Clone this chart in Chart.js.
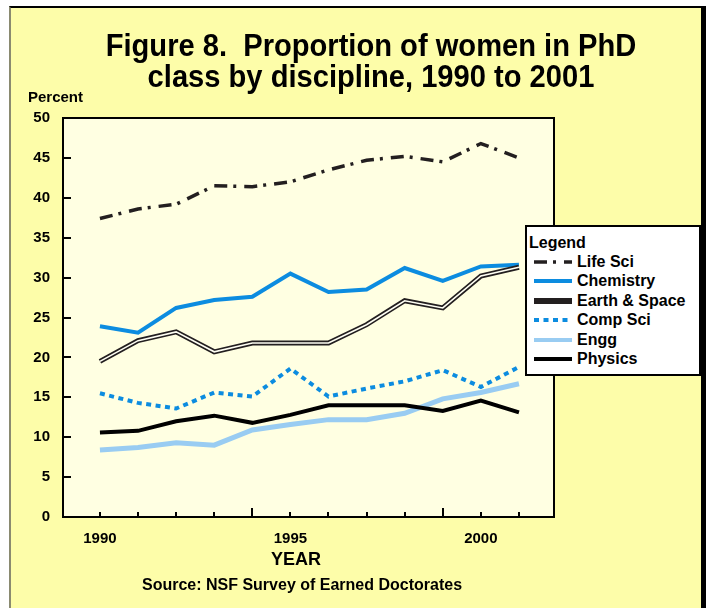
<!DOCTYPE html>
<html>
<head>
<meta charset="utf-8">
<script src="https://cdn.jsdelivr.net/npm/chart.js@4.4.1/dist/chart.umd.min.js"></script>
<style>
  html, body { margin: 0; padding: 0; background: #fff; }
  body { width: 711px; height: 608px; position: relative; overflow: hidden;
         font-family: "Liberation Sans", Arial, sans-serif; font-weight: bold; color: #000; }
  #frame { position: absolute; left: 9px; top: 6px; width: 697px; height: 620px;
           background: #FDFDA9; border-top: 2px solid #000; border-left: 2px solid #8a8a70;
           border-right: 5px solid #000; box-sizing: border-box; }
  #chart { position: absolute; left: 0; top: 0; }
  .txt { position: absolute; white-space: nowrap; }
  #title { left: 0; width: 742px; top: 30px; text-align: center; font-size: 32px;
           line-height: 31px; transform: scaleX(0.91); }
  #percent { left: 28px; top: 89px; font-size: 15px; line-height: 15px; }
  #year { left: 0; width: 592px; top: 550px; text-align: center; font-size: 18px; line-height: 18px; }
  #source { left: 0; width: 604px; top: 577px; text-align: center; font-size: 16px; line-height: 16px; }
  #legend { position: absolute; left: 525px; top: 225px; width: 176px; height: 151px;
            background: #fff; border: 2px solid #000; box-sizing: border-box; }
  #legend .head { position: absolute; left: 2px; top: 8px; font-size: 16px; line-height: 16px; }
  #legend .row { position: absolute; left: 5px; height: 16px; font-size: 16px; line-height: 16px;
                 white-space: nowrap; }
  #legend svg { position: absolute; left: 0; top: 0; }
  #legend .row span { position: absolute; left: 45px; top: 0; white-space: nowrap; }
</style>
</head>
<body>
<div id="frame"></div>
<canvas id="chart" width="711" height="608"></canvas>
<div class="txt" id="title">Figure 8.&nbsp; Proportion of women in PhD<br>class by discipline, 1990 to 2001</div>
<div class="txt" id="percent">Percent</div>
<div class="txt" id="year">YEAR</div>
<div class="txt" id="source">Source: NSF Survey of Earned Doctorates</div>
<div id="legend"><div class="head">Legend</div></div>

<script>
// ===== 資料 =====
const years = [1990, 1991, 1992, 1993, 1994, 1995, 1996, 1997, 1998, 1999, 2000, 2001];
const labelYears = [1990, 1995, 2000];
const majorTickYears = [1994, 1999];
const yTicks = [0, 5, 10, 15, 20, 25, 30, 35, 40, 45, 50];

const lifeSci   = [37.4, 38.6, 39.2, 41.5, 41.4, 42.0, 43.5, 44.7, 45.2, 44.5, 46.8, 45.0];
const chemistry = [23.9, 23.1, 26.2, 27.2, 27.6, 30.5, 28.2, 28.5, 31.2, 29.6, 31.4, 31.6];
const earthSpace= [19.5, 22.1, 23.2, 20.7, 21.8, 21.8, 21.8, 24.1, 27.1, 26.2, 30.2, 31.3];
const compSci   = [15.5, 14.3, 13.6, 15.6, 15.1, 18.6, 15.1, 16.1, 17.0, 18.4, 16.3, 18.8];
const engg      = [8.4, 8.7, 9.3, 9.0, 10.9, 11.6, 12.2, 12.2, 13.0, 14.8, 15.6, 16.7];
const physics   = [10.6, 10.8, 12.0, 12.7, 11.8, 12.8, 14.0, 14.0, 14.0, 13.3, 14.6, 13.1];

const plotBg = "#FFFFE2";
const pts = arr => arr.map((v, i) => ({ x: years[i], y: v }));

// ===== 資料集 =====
const datasets = [
  { label: "Life Sci", data: pts(lifeSci), borderColor: "#231F20", borderWidth: 3.5,
    borderDash: [13, 6, 3, 8], order: 6 },
  { label: "Chemistry", data: pts(chemistry), borderColor: "#0C8CE0", borderWidth: 4, order: 5 },
  { label: "Earth & Space", data: pts(earthSpace), borderColor: "#231F20", borderWidth: 5, order: 4 },
  { label: "", data: pts(earthSpace), borderColor: "#FFFFF4", borderWidth: 1.6, order: 3, helper: true },
  { label: "Comp Sci", data: pts(compSci), borderColor: "#0C8CE0", borderWidth: 4,
    borderDash: [5, 4.5], order: 2 },
  { label: "Engg", data: pts(engg), borderColor: "#99CCF2", borderWidth: 5, order: 1 },
  { label: "Physics", data: pts(physics), borderColor: "#000000", borderWidth: 4, order: 0 }
];
datasets.forEach(d => {
  d.pointRadius = 0;
  d.tension = 0;
  d.fill = false;
  d.borderJoinStyle = "miter";
  d.borderCapStyle = "butt";
});

// ===== 繪圖區背景、外框與刻度 =====
const frameAndTicks = {
  id: "frameAndTicks",
  beforeDatasetsDraw(chart) {
    const { ctx, chartArea: a } = chart;
    ctx.save();
    ctx.fillStyle = plotBg;
    ctx.fillRect(a.left, a.top, a.right - a.left, a.bottom - a.top);
    ctx.restore();
  },
  afterDatasetsDraw(chart) {
    const { ctx, chartArea: a, scales } = chart;
    ctx.save();
    ctx.strokeStyle = "#000";
    ctx.lineWidth = 2;
    ctx.strokeRect(a.left, a.top, a.right - a.left, a.bottom - a.top);
    ctx.beginPath();
    yTicks.forEach(v => {
      const y = Math.round(scales.y.getPixelForValue(v));
      ctx.moveTo(a.left, y);
      ctx.lineTo(a.left + 8, y);
    });
    years.forEach(v => {
      const x = Math.round(scales.x.getPixelForValue(v));
      const len = majorTickYears.includes(v) ? 9 : 5;
      ctx.moveTo(x, a.bottom);
      ctx.lineTo(x, a.bottom - len);
    });
    ctx.stroke();
    ctx.restore();
  }
};

const tickFont = { family: "'Liberation Sans', Arial, sans-serif", size: 15, weight: "bold" };

const chart = new Chart(document.getElementById("chart"), {
  type: "line",
  data: { datasets },
  options: {
    responsive: false,
    animation: false,
    layout: { padding: { top: 118, right: 157, left: 0, bottom: 0 } },
    plugins: { legend: { display: false }, tooltip: { enabled: false } },
    scales: {
      x: {
        type: "linear",
        min: 1989.03,
        max: 2001.92,
        afterFit: s => { s.height = 91; },
        afterBuildTicks: s => { s.ticks = years.map(v => ({ value: v })); },
        grid: { display: false },
        border: { display: false },
        ticks: {
          autoSkip: false,
          maxRotation: 0,
          padding: 5,
          color: "#000",
          font: tickFont,
          callback: v => labelYears.includes(v) ? String(v) : ""
        }
      },
      y: {
        min: 0,
        max: 50,
        afterFit: s => { s.width = 63; },
        afterBuildTicks: s => { s.ticks = yTicks.map(v => ({ value: v })); },
        grid: { display: false },
        border: { display: false },
        ticks: { padding: 5, color: "#000", font: tickFont }
      }
    }
  },
  plugins: [frameAndTicks]
});

// ===== 圖例 =====
const legendEl = document.getElementById("legend");
datasets.filter(d => !d.helper).forEach((d, i) => {
  const row = document.createElement("div");
  row.className = "row";
  row.style.top = (27 + i * 19.4) + "px";
  const dash = d.borderDash ? `stroke-dasharray="${d.borderDash.join(" ")}"` : "";
  const w = d.label === "Earth & Space" ? 6 : Math.min(d.borderWidth, 4);
  row.innerHTML =
    `<svg width="42" height="16"><line x1="2" y1="8" x2="40" y2="8" stroke="${d.borderColor}" ` +
    `stroke-width="${w}" ${dash}/></svg><span></span>`;
  row.querySelector("span").textContent = d.label;
  legendEl.appendChild(row);
});
</script>
</body>
</html>
